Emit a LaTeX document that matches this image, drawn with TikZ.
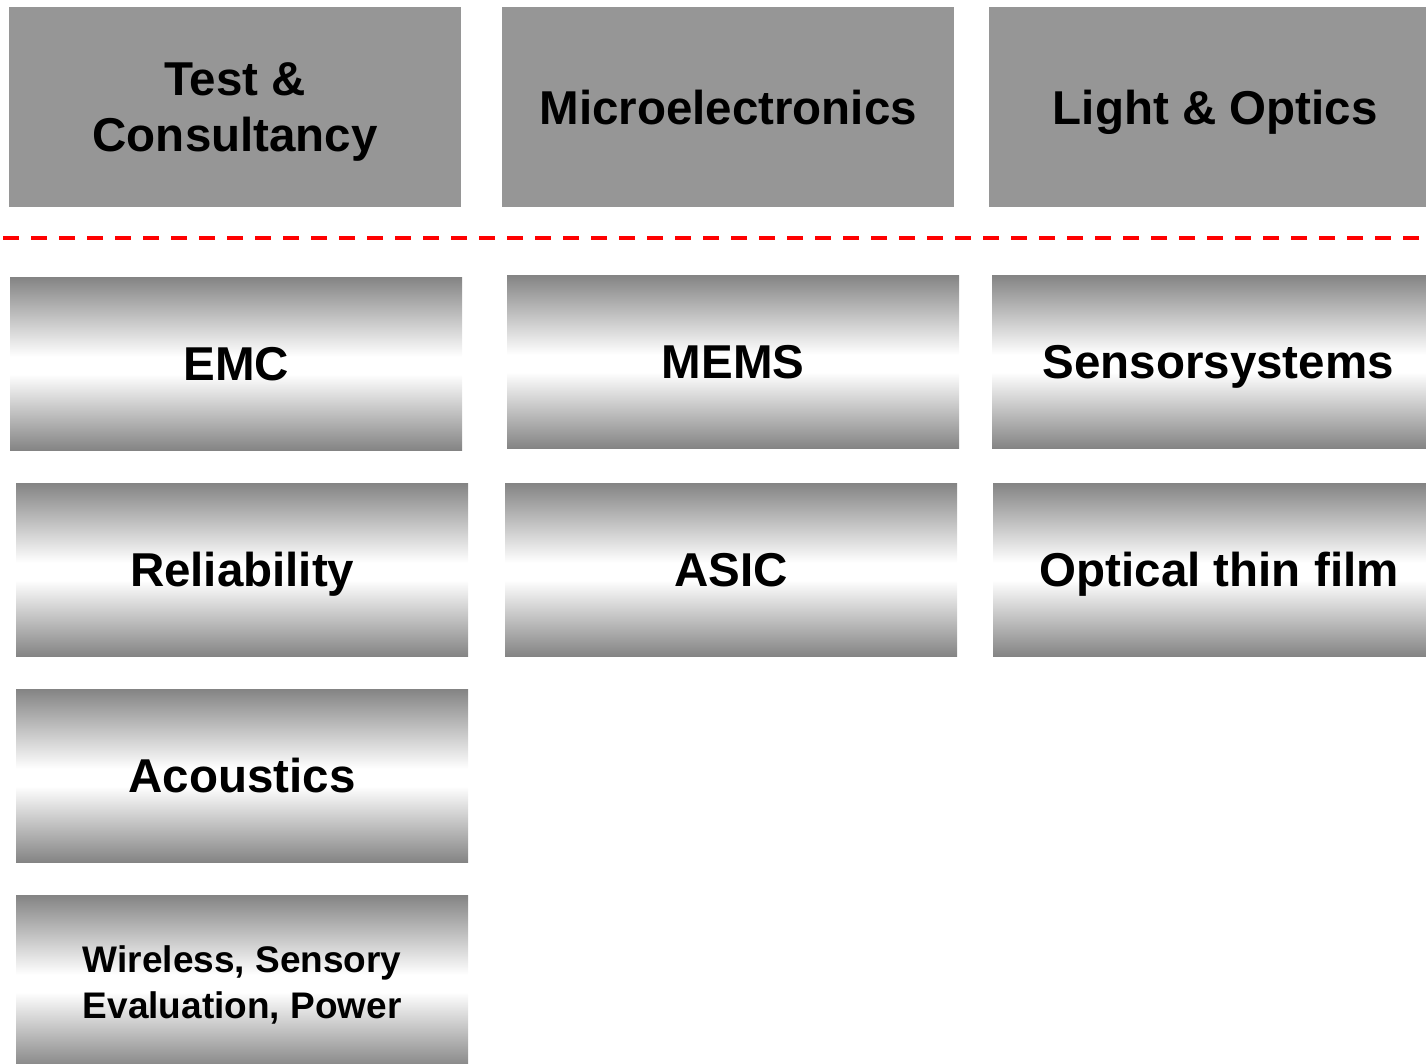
\documentclass[tikz,border=0pt]{standalone}
\usepackage{fontspec}
\setmainfont{Liberation Sans}
\definecolor{topgray}{RGB}{150,150,150}
\definecolor{edgegray}{RGB}{132,132,132}
\pgfdeclareverticalshading{metal}{100bp}{color(0bp)=(edgegray); color(25bp)=(edgegray); color(47bp)=(white); color(52bp)=(white); color(75bp)=(edgegray); color(100bp)=(edgegray)}
\begin{document}
\begin{tikzpicture}[x=1pt,y=-1pt,
  headbox/.style={draw=none, fill=topgray, minimum width=452pt, minimum height=200pt, inner sep=0pt, anchor=north west,
    font=\bfseries\fontsize{47.5}{56}\selectfont, align=center, text depth=0pt},
  metalbox/.style={draw=none, shading=metal, minimum width=452pt, minimum height=173pt, inner sep=0pt, anchor=north west,
    font=\bfseries\fontsize{47.5}{56}\selectfont, align=center, text depth=0pt},
  smalltext/.style={font=\bfseries\fontsize{37}{46}\selectfont},
  divider/.style={draw=red, line width=4pt, dash pattern=on 16pt off 12pt, dash phase=-3pt}]
\useasboundingbox (0,0) rectangle (1426,1063);
\clip (0,0) rectangle (1426,1063);
% top row
\node[headbox] (test) at (9,7) {Test \&\\Consultancy};
\node[headbox] (micro) at (502,7) {Microelectronics};
\node[headbox] (light) at (989,7) {Light \& Optics};
% divider
\coordinate (dl) at (0,238);
\coordinate (dr) at (1426,238);
\draw[divider] (dl) -- (dr);
% second row
\node[metalbox] (emc) at (10,277) {EMC};
\node[metalbox] (mems) at (507,275) {MEMS};
\node[metalbox] (sensor) at (992,275) {Sensorsystems};
% third row
\node[metalbox] (rel) at (16,483) {Reliability};
\node[metalbox] (asic) at (505,483) {ASIC};
\node[metalbox] (optic) at (993,483) {Optical thin film};
% fourth row
\node[metalbox] (acou) at (16,689) {Acoustics};
% fifth row
\node[metalbox, smalltext] (wire) at (16,895) {Wireless, Sensory\\Evaluation, Power};
\end{tikzpicture}
\end{document}
